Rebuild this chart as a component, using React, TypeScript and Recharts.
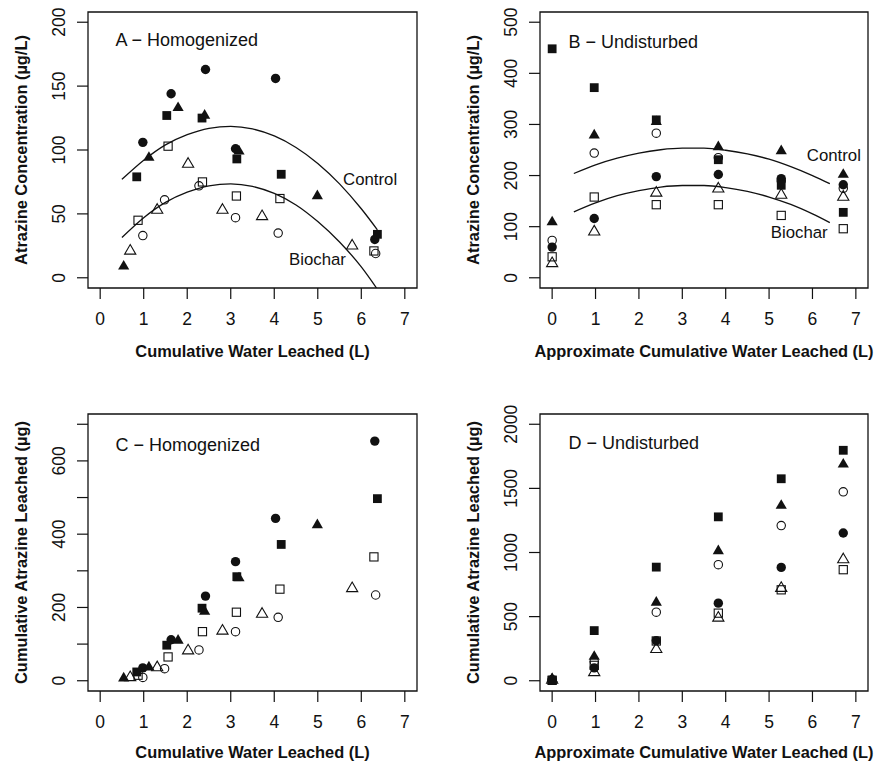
import React from 'react';
import { ScatterChart, Scatter, XAxis, YAxis, ReferenceArea, ReferenceDot } from 'recharts';

const FONT = '"Liberation Sans", Arial, Helvetica, sans-serif';
const INK = '#111';

// ---------- ticks ----------
const xTicks = [0, 1, 2, 3, 4, 5, 6, 7];
const aYTicks = [0, 50, 100, 150, 200];
const bYTicks = [0, 100, 200, 300, 400, 500];
const cYTicks = [0, 100, 200, 300, 400, 500, 600, 700];
const cYLabels = [0, 200, 400, 600];
const dYTicks = [0, 500, 1000, 1500, 2000];

// ---------- Panel A: Homogenized concentration ----------
const aCtrlCircleX = [0.98, 1.63, 2.42, 3.11, 4.03, 6.31];
const aCtrlCircleY = [106, 144, 163, 101, 156, 30];
const aCtrlSquareX = [0.84, 1.53, 2.34, 3.14, 4.16, 6.37];
const aCtrlSquareY = [79, 127, 125, 93, 81, 34];
const aCtrlTriX = [0.54, 1.12, 1.79, 2.4, 3.19, 4.99];
const aCtrlTriY = [9, 94, 133, 127, 99, 64];
const aBioCircleX = [0.98, 1.48, 2.27, 3.11, 4.09, 6.33];
const aBioCircleY = [33, 61, 72, 47, 35, 19];
const aBioSquareX = [0.87, 1.56, 2.35, 3.13, 4.13, 6.29];
const aBioSquareY = [45, 103, 75, 64, 62, 21];
const aBioTriX = [0.69, 1.31, 2.02, 2.81, 3.72, 5.79];
const aBioTriY = [21, 53, 89, 53, 48, 25];
const aCtrlCurveX = [0.5, 1, 1.5, 2, 2.5, 3, 3.5, 4, 4.5, 5, 5.5, 6, 6.37];
const aCtrlCurveY = [77, 92, 104, 112, 117, 118.5, 116.5, 111, 102, 89.5, 73.5, 54, 37.5];
const aBioCurveX = [0.5, 1, 1.5, 2, 2.5, 3, 3.5, 4, 4.5, 5, 5.5, 6, 6.35];
const aBioCurveY = [31.5, 47, 59, 67, 72, 73.5, 71.5, 66, 57, 44, 28, 8.5, -8];

// ---------- Panel B: Undisturbed concentration ----------
const bdX = [0, 0.97, 2.4, 3.83, 5.28, 6.71];
const bCtrlSquareY = [448, 372, 309, 231, 181, 128];
const bCtrlTriY = [109, 279, 305, 256, 248, 202];
const bCtrlCircleY = [60, 116, 198, 202, 194, 182];
const bBioCircleY = [73, 244, 283, 235, 190, 175];
const bBioSquareY = [41, 158, 143, 143, 122, 96];
const bBioTriY = [28, 90, 166, 174, 162, 158];
const bCurveX = [0.5, 1, 1.5, 2, 2.5, 3, 3.5, 4, 4.5, 5, 5.5, 6, 6.4];
const bCtrlCurveY = [204, 221, 234, 244, 250.5, 253.5, 253.5, 249.5, 242.5, 232, 217.5, 200, 184];
const bBioCurveY = [129, 146.5, 160.5, 170.5, 177.5, 180.5, 180.5, 176.5, 169, 158, 143.5, 125, 108];

// ---------- Panel C: Homogenized cumulative ----------
const cCtrlCircleY = [35, 112, 231, 325, 443, 654];
const cCtrlSquareY = [24, 97, 198, 284, 372, 497];
const cCtrlTriY = [7, 37, 110, 189, 280, 425];
const cBioCircleY = [9, 33, 84, 134, 173, 234];
const cBioSquareY = [15, 65, 134, 187, 250, 338];
const cBioTriY = [9, 36, 82, 136, 182, 252];

// ---------- Panel D: Undisturbed cumulative ----------
const dCtrlSquareY = [5, 391, 886, 1278, 1575, 1797];
const dCtrlTriY = [15, 188, 610, 1012, 1366, 1687];
const dCtrlCircleY = [5, 100, 313, 605, 884, 1152];
const dBioCircleY = [8, 150, 535, 905, 1210, 1473];
const dBioSquareY = [3, 120, 310, 527, 709, 866];
const dBioTriY = [5, 65, 245, 490, 722, 945];

const zip = (xs: number[], ys: number[]) => xs.map((x, i) => ({ x, y: ys[i] }));

// ---------- marker shapes ----------
const filledCircle = (p: any) => <circle cx={p.cx} cy={p.cy} r={4.7} fill={INK} />;
const openCircle = (p: any) => <circle cx={p.cx} cy={p.cy} r={4.2} fill="none" stroke={INK} strokeWidth={1.1} />;
const filledSquare = (p: any) => <rect x={p.cx - 4.4} y={p.cy - 4.4} width={8.8} height={8.8} fill={INK} />;
const openSquare = (p: any) => (
  <rect x={p.cx - 4.1} y={p.cy - 4.1} width={8.2} height={8.2} fill="none" stroke={INK} strokeWidth={1.1} />
);
const triPts = (cx: number, cy: number) => `${cx},${cy - 6.4} ${cx + 5.6},${cy + 3.2} ${cx - 5.6},${cy + 3.2}`;
const filledTri = (p: any) => <polygon points={triPts(p.cx, p.cy)} fill={INK} />;
const openTri = (p: any) => <polygon points={triPts(p.cx, p.cy)} fill="none" stroke={INK} strokeWidth={1.1} strokeLinejoin="miter" />;
const noShape = () => <g />;

type Txt = { x: number; y: number; text: string; size: number };

type PanelCfg = {
  left: number;
  top: number;
  width: number;
  height: number;
  mTop: number;
  mRight: number;
  yAxisW: number;
  xAxisH: number;
  yDomain: [number, number];
  yTicks: number[];
  yLabels: number[];
  xTitle: string;
  yTitle: string;
  xTitleDy: number;
  series: { data: { x: number; y: number }[]; shape: any }[];
  curves: { x: number; y: number }[][];
  texts: Txt[];
};

const panels: PanelCfg[] = [
  {
    left: 0, top: 0, width: 439, height: 380, mTop: 12, mRight: 22, yAxisW: 88, xAxisH: 92,
    yDomain: [-8, 208], yTicks: aYTicks, yLabels: aYTicks,
    xTitle: 'Cumulative Water Leached (L)', yTitle: 'Atrazine Concentration (\u00b5g/L)', xTitleDy: 63,
    series: [
      { data: zip(aCtrlCircleX, aCtrlCircleY), shape: filledCircle },
      { data: zip(aCtrlSquareX, aCtrlSquareY), shape: filledSquare },
      { data: zip(aCtrlTriX, aCtrlTriY), shape: filledTri },
      { data: zip(aBioCircleX, aBioCircleY), shape: openCircle },
      { data: zip(aBioSquareX, aBioSquareY), shape: openSquare },
      { data: zip(aBioTriX, aBioTriY), shape: openTri },
    ],
    curves: [zip(aCtrlCurveX, aCtrlCurveY), zip(aBioCurveX, aBioCurveY)],
    texts: [
      { x: 0.35, y: 186, text: 'A \u2212 Homogenized', size: 18 },
      { x: 5.58, y: 77, text: 'Control', size: 16.8 },
      { x: 4.34, y: 14.5, text: 'Biochar', size: 16.8 },
    ],
  },
  {
    left: 439, top: 0, width: 439, height: 380, mTop: 12, mRight: 10, yAxisW: 101, xAxisH: 92,
    yDomain: [-20, 520], yTicks: bYTicks, yLabels: bYTicks,
    xTitle: 'Approximate Cumulative Water Leached (L)', yTitle: 'Atrazine Concentration (\u00b5g/L)', xTitleDy: 63,
    series: [
      { data: zip(bdX, bBioCircleY), shape: openCircle },
      { data: zip(bdX, bBioSquareY), shape: openSquare },
      { data: zip(bdX, bBioTriY), shape: openTri },
      { data: zip(bdX, bCtrlCircleY), shape: filledCircle },
      { data: zip(bdX, bCtrlTriY), shape: filledTri },
      { data: zip(bdX, bCtrlSquareY), shape: filledSquare },
    ],
    curves: [zip(bCurveX, bCtrlCurveY), zip(bCurveX, bBioCurveY)],
    texts: [
      { x: 0.375, y: 461, text: 'B \u2212 Undisturbed', size: 18 },
      { x: 5.87, y: 240, text: 'Control', size: 16.8 },
      { x: 5.04, y: 90, text: 'Biochar', size: 16.8 },
    ],
  },
  {
    left: 0, top: 380, width: 439, height: 381, mTop: 34, mRight: 22, yAxisW: 88, xAxisH: 70,
    yDomain: [-28, 728], yTicks: cYTicks, yLabels: cYLabels,
    xTitle: 'Cumulative Water Leached (L)', yTitle: 'Cumulative Atrazine Leached (\u00b5g)', xTitleDy: 61,
    series: [
      { data: zip(aBioCircleX, cBioCircleY), shape: openCircle },
      { data: zip(aBioSquareX, cBioSquareY), shape: openSquare },
      { data: zip(aBioTriX, cBioTriY), shape: openTri },
      { data: zip(aCtrlCircleX, cCtrlCircleY), shape: filledCircle },
      { data: zip(aCtrlSquareX, cCtrlSquareY), shape: filledSquare },
      { data: zip(aCtrlTriX, cCtrlTriY), shape: filledTri },
    ],
    curves: [],
    texts: [{ x: 0.35, y: 643, text: 'C \u2212 Homogenized', size: 18 }],
  },
  {
    left: 439, top: 380, width: 439, height: 381, mTop: 34, mRight: 10, yAxisW: 101, xAxisH: 70,
    yDomain: [-80, 2080], yTicks: dYTicks, yLabels: dYTicks,
    xTitle: 'Approximate Cumulative Water Leached (L)', yTitle: 'Cumulative Atrazine Leached (\u00b5g)', xTitleDy: 61,
    series: [
      { data: zip(bdX, dBioTriY), shape: openTri },
      { data: zip(bdX, dBioSquareY), shape: openSquare },
      { data: zip(bdX, dBioCircleY), shape: openCircle },
      { data: zip(bdX, dCtrlCircleY), shape: filledCircle },
      { data: zip(bdX, dCtrlTriY), shape: filledTri },
      { data: zip(bdX, dCtrlSquareY), shape: filledSquare },
    ],
    curves: [],
    texts: [{ x: 0.375, y: 1854, text: 'D \u2212 Undisturbed', size: 18 }],
  },
];

const TICK_FS = 17.5;
const TITLE_FS = 16.4;

function Panel({ cfg }: { cfg: PanelCfg }) {
  const plotLeft = cfg.yAxisW;
  const plotTop = cfg.mTop;
  const plotBottom = cfg.height - cfg.xAxisH;
  const plotW = cfg.width - cfg.yAxisW - cfg.mRight;
  const plotH = plotBottom - plotTop;

  const xTick = (p: any) => (
    <text x={p.x} y={p.y + 20} dy="0.35em" textAnchor="middle" fontSize={TICK_FS} fontFamily={FONT} fill={INK}>
      {p.payload.value}
    </text>
  );
  const yTick = (p: any) => {
    const v = p.payload.value;
    if (cfg.yLabels.indexOf(v) < 0) return <g />;
    const cx = p.x - 18.5;
    return (
      <text
        x={cx}
        y={p.y}
        dy="0.35em"
        textAnchor="middle"
        transform={`rotate(-90, ${cx}, ${p.y})`}
        fontSize={TICK_FS}
        fontFamily={FONT}
        fill={INK}
      >
        {v}
      </text>
    );
  };
  const xTitle = () => (
    <text
      x={plotLeft + plotW / 2}
      y={plotBottom + cfg.xTitleDy}
      dy="0.35em"
      textAnchor="middle"
      fontSize={TITLE_FS}
      fontWeight="bold"
      fontFamily={FONT}
      fill={INK}
    >
      {cfg.xTitle}
    </text>
  );
  const yTitle = () => {
    const cx = plotLeft - 67;
    const cy = plotTop + plotH / 2;
    return (
      <text
        x={cx}
        y={cy}
        dy="0.35em"
        textAnchor="middle"
        transform={`rotate(-90, ${cx}, ${cy})`}
        fontSize={TITLE_FS}
        fontWeight="bold"
        fontFamily={FONT}
        fill={INK}
      >
        {cfg.yTitle}
      </text>
    );
  };

  return (
    <div style={{ position: 'absolute', left: cfg.left, top: cfg.top, width: cfg.width, height: cfg.height }}>
      <ScatterChart
        width={cfg.width}
        height={cfg.height}
        margin={{ top: cfg.mTop, right: cfg.mRight, bottom: 0, left: 0 }}
      >
        <XAxis
          type="number"
          dataKey="x"
          domain={[-0.28, 7.28]}
          ticks={xTicks}
          interval={0}
          allowDataOverflow
          height={cfg.xAxisH}
          tickSize={11}
          tickMargin={0}
          axisLine={false}
          tickLine={{ stroke: INK, strokeWidth: 1.2 }}
          tick={xTick}
          label={xTitle}
        />
        <YAxis
          type="number"
          dataKey="y"
          domain={cfg.yDomain}
          ticks={cfg.yTicks}
          interval={0}
          allowDataOverflow
          width={cfg.yAxisW}
          tickSize={11}
          tickMargin={0}
          axisLine={false}
          tickLine={{ stroke: INK, strokeWidth: 1.2 }}
          tick={yTick}
          label={yTitle}
        />
        <ReferenceArea
          x1={-0.28}
          x2={7.28}
          y1={cfg.yDomain[0]}
          y2={cfg.yDomain[1]}
          fill="none"
          fillOpacity={0}
          stroke={INK}
          strokeWidth={1.3}
          ifOverflow="visible"
        />
        {cfg.curves.map((c, i) => (
          <Scatter
            key={'c' + i}
            data={c}
            line={{ stroke: INK, strokeWidth: 1.3 }}
            lineType="joint"
            lineJointType="monotoneX"
            shape={noShape}
            isAnimationActive={false}
          />
        ))}
        {cfg.series.map((s, i) => (
          <Scatter key={'s' + i} data={s.data} shape={s.shape} isAnimationActive={false} />
        ))}
        {cfg.texts.map((t, i) => (
          <ReferenceDot
            key={'t' + i}
            x={t.x}
            y={t.y}
            r={0}
            ifOverflow="visible"
            shape={(p: any) => (
              <text x={p.cx} y={p.cy} dy="0.35em" textAnchor="start" fontSize={t.size} fontFamily={FONT} fill={INK}>
                {t.text}
              </text>
            )}
          />
        ))}
      </ScatterChart>
    </div>
  );
}

export default function App() {
  return (
    <div style={{ position: 'absolute', left: 0, top: 0, width: 878, height: 761, background: '#fff' }}>
      {panels.map((cfg, i) => (
        <Panel key={i} cfg={cfg} />
      ))}
    </div>
  );
}
